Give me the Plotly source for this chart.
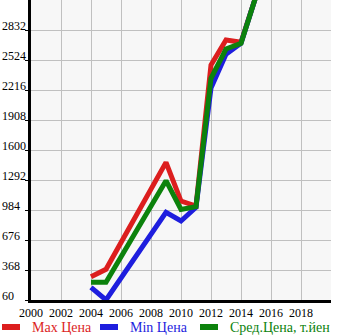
import plotly.graph_objects as go

years = [2004, 2005, 2009, 2010, 2011, 2012, 2013, 2014, 2015]
max_price = [299, 375, 1473, 1076, 1025, 2473, 2729, 2706, 3180]
min_price = [190, 60, 960, 871, 1012, 2237, 2582, 2695, 3180]
avg_price = [242, 242, 1285, 990, 1018, 2336, 2637, 2695, 3180]

series_names = ["Max Цена", "Min Цена", "Сред.Цена, т.йен"]
series_colors = ["#dc1e1e", "#1e1ede", "#0c820c"]

y_ticks = [60, 368, 676, 984, 1292, 1600, 1908, 2216, 2524, 2832]
x_ticks = [2000, 2002, 2004, 2006, 2008, 2010, 2012, 2014, 2016, 2018]

FONT = "Liberation Serif, Times New Roman, serif"

fig = go.Figure()
for vals, name, color in zip([max_price, min_price, avg_price], series_names, series_colors):
    fig.add_trace(go.Scatter(
        x=years, y=vals, mode="lines", name=name,
        line=dict(color=color, width=5, shape="linear"),
        showlegend=False, cliponaxis=True,
    ))

# y tick labels, left-aligned at the page edge
annotations = []
for v in y_ticks:
    annotations.append(dict(
        x=0, xref="paper", xshift=-31, y=v, yref="y", yshift=4,
        text=str(v), showarrow=False, xanchor="left", yanchor="middle",
        font=dict(family=FONT, size=12, color="#000"),
    ))

# legend drawn under the axis
legend_x = [0, 98, 198]
shapes = []
for lx, name, color in zip(legend_x, series_names, series_colors):
    shapes.append(dict(
        type="line", xref="paper", yref="paper",
        x0=(lx + 2 - 31) / 300, x1=(lx + 20 - 31) / 300,
        y0=-27 / 300, y1=-27 / 300,
        line=dict(color=color, width=6),
    ))
    annotations.append(dict(
        x=(lx + 30 - 31) / 300, xref="paper", y=-27 / 300, yref="paper",
        text=name, showarrow=False, xanchor="left", yanchor="middle",
        font=dict(family=FONT, size=14, color=color),
    ))

fig.update_layout(
    width=345, height=335,
    margin=dict(l=31, r=14, t=0, b=35),
    paper_bgcolor="white", plot_bgcolor="#f7f7f7",
    showlegend=False,
    font=dict(family=FONT, size=12, color="#000"),
    annotations=annotations, shapes=shapes,
    xaxis=dict(
        range=[2000, 2020], tickvals=x_ticks, ticktext=[str(t) for t in x_ticks],
        showgrid=True, gridcolor="#c0c0c0", gridwidth=1,
        showline=True, linecolor="#000", linewidth=3,
        ticks="", zeroline=False, fixedrange=True,
        tickfont=dict(family=FONT, size=12, color="#000"),
    ),
    yaxis=dict(
        range=[60, 3140], tickvals=y_ticks, showticklabels=False,
        showgrid=True, gridcolor="#c0c0c0", gridwidth=1,
        showline=True, linecolor="#000", linewidth=3,
        ticks="outside", ticklen=3, tickcolor="#000", tickwidth=1,
        zeroline=False, fixedrange=True,
    ),
)

fig.write_html("out.html")
